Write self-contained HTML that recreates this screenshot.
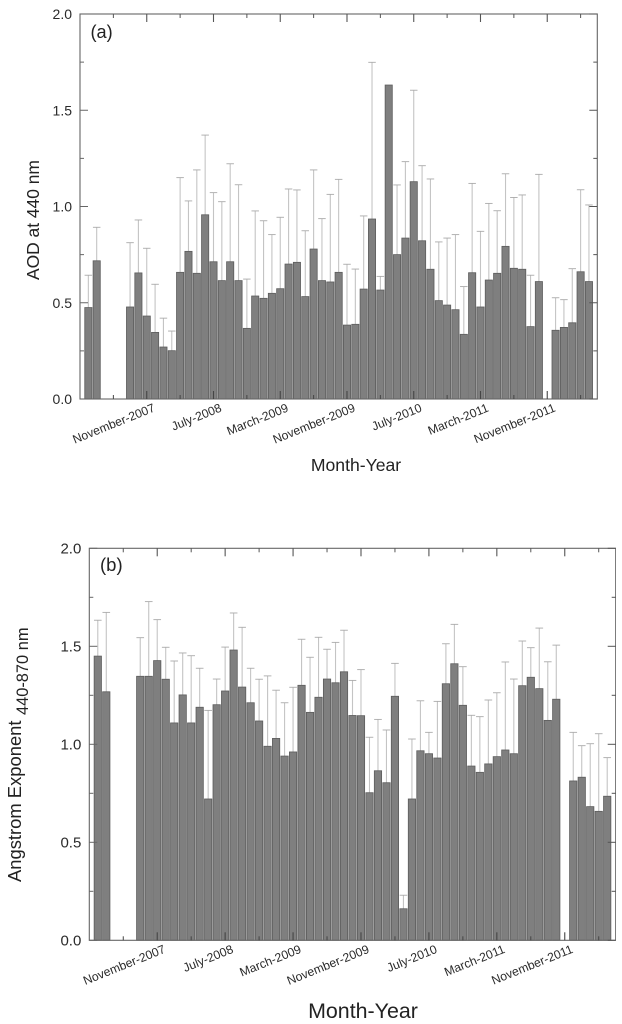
<!DOCTYPE html>
<html lang="en">
<head>
<meta charset="utf-8">
<title>AOD and Angstrom Exponent</title>
<style>
html,body{margin:0;padding:0;background:#fff;width:622px;height:1024px;overflow:hidden}
svg{display:block;font-family:"Liberation Sans",Arial,sans-serif}
</style>
</head>
<body>
<svg id="figure" width="622" height="1024" viewBox="0 0 622 1024" xmlns="http://www.w3.org/2000/svg">
  <defs>
    <filter id="soft" x="0" y="0" width="100%" height="100%"><feGaussianBlur stdDeviation="0.35"/></filter>
  </defs>
  <rect width="622" height="1024" fill="#fff"/>
  <g id="root" filter="url(#soft)">
    <g id="panel-a"></g>
    <g id="panel-b"></g>
    <text x="90.5" y="38" font-size="18.2" fill="#222">(a)</text>
    <text x="100" y="571" font-size="18.5" fill="#222">(b)</text>
    <text x="356" y="471" font-size="17.6" fill="#222" text-anchor="middle">Month-Year</text>
    <text x="363" y="1018" font-size="21.4" fill="#222" text-anchor="middle">Month-Year</text>
    <text transform="translate(39,280) rotate(-90)" font-size="17.4" fill="#222">AOD at 440 nm</text>
    <text transform="translate(21,882) rotate(-90)" font-size="18.4" fill="#222">Angstrom Exponent</text>
    <text transform="translate(28,715) rotate(-90)" font-size="16.4" fill="#222">440-870 nm</text>
  </g>
</svg>
<script>
const categories = ['Apr-07','May-07','Jun-07','Jul-07','Aug-07','Sep-07','Oct-07','Nov-07','Dec-07','Jan-08','Feb-08','Mar-08','Apr-08','May-08','Jun-08','Jul-08','Aug-08','Sep-08','Oct-08','Nov-08','Dec-08','Jan-09','Feb-09','Mar-09','Apr-09','May-09','Jun-09','Jul-09','Aug-09','Sep-09','Oct-09','Nov-09','Dec-09','Jan-10','Feb-10','Mar-10','Apr-10','May-10','Jun-10','Jul-10','Aug-10','Sep-10','Oct-10','Nov-10','Dec-10','Jan-11','Feb-11','Mar-11','Apr-11','May-11','Jun-11','Jul-11','Aug-11','Sep-11','Oct-11','Nov-11','Dec-11','Jan-12','Feb-12','Mar-12','Apr-12'];
const majorTickCategories = ['Nov-07','Jul-08','Mar-09','Nov-09','Jul-10','Mar-11','Nov-11'];
const minorTickCategories = ['Jul-07','Mar-08','Nov-08','Jul-09','Mar-10','Nov-10','Jul-11','Mar-12'];
const xTickLabels = ['November-2007','July-2008','March-2009','November-2009','July-2010','March-2011','November-2011'];
const yMajorTicks = [0, 0.5, 1, 1.5, 2];
const yMinorTicks = [0.25, 0.75, 1.25, 1.75];
const yTickLabels = ['0.0','0.5','1.0','1.5','2.0'];
const aodValues = [0.475,0.718,null,null,null,0.478,0.655,0.431,0.346,0.27,0.251,0.658,0.767,0.653,0.957,0.713,0.615,0.713,0.615,0.367,0.535,0.523,0.549,0.573,0.701,0.71,0.532,0.779,0.615,0.608,0.658,0.384,0.388,0.571,0.935,0.566,1.631,0.75,0.836,1.129,0.822,0.674,0.511,0.488,0.464,0.336,0.656,0.478,0.618,0.653,0.793,0.679,0.674,0.376,0.61,null,0.357,0.372,0.396,0.661,0.61];
const aodUpper = [0.643,0.892,null,null,null,0.812,0.93,0.783,0.596,0.42,0.353,1.15,1.029,1.19,1.371,1.072,1.025,1.222,1.113,0.623,0.977,0.926,0.854,0.944,1.091,1.086,0.874,1.19,0.937,1.063,1.141,0.7,0.675,0.951,1.749,0.637,null,1.112,1.233,1.604,1.212,1.143,0.816,0.836,0.854,0.584,1.12,0.871,1.016,0.978,1.17,1.047,1.06,0.643,1.167,null,0.526,0.516,0.677,1.087,1.008];
const angstromValues = [1.45,1.268,null,null,null,1.347,1.347,1.427,1.332,1.109,1.252,1.109,1.189,0.721,1.202,1.272,1.481,1.292,1.212,1.119,0.99,1.03,0.94,0.961,1.301,1.163,1.24,1.333,1.314,1.37,1.147,1.146,0.753,0.865,0.804,1.245,0.161,0.721,0.967,0.952,0.93,1.309,1.411,1.199,0.889,0.857,0.9,0.937,0.971,0.952,1.299,1.342,1.284,1.122,1.23,null,0.813,0.832,0.682,0.658,0.735];
const angstromUpper = [1.633,1.673,null,null,null,1.544,1.728,1.636,1.495,1.425,1.466,1.452,1.388,1.173,1.333,1.496,1.67,1.597,1.388,1.332,1.349,1.276,1.212,1.291,1.536,1.444,1.546,1.485,1.52,1.582,1.326,1.381,1.036,1.127,1.073,1.413,0.23,1.027,1.222,1.061,1.219,1.513,1.612,1.396,1.148,1.141,1.226,1.263,1.42,1.333,1.527,1.493,1.593,1.421,1.506,null,1.061,0.993,1.003,1.054,0.932];

const SVG_NS = 'http://www.w3.org/2000/svg';

function shape(tag, attrs, parent) {
  const el = document.createElementNS(SVG_NS, tag);
  for (const k in attrs) el.setAttribute(k, attrs[k]);
  parent.appendChild(el);
  return el;
}

function drawPanel(cfg) {
  const g = document.getElementById(cfg.id);
  const L = cfg.left, R = cfg.right, T = cfg.top, B = cfg.bottom;
  const step = (R - L) / (categories.length + 1);
  const x = function (i) { return L + step * (i + 1); };
  const y = function (v) { return B - (v / 2) * (B - T); };
  const barW = step * 0.86;
  const capW = step * 0.9;

  cfg.upper.forEach(function (u, i) {
    const v = cfg.values[i];
    if (u === null || v === null) return;
    const stem = shape('line', {x1: x(i), x2: x(i), y1: y(v), y2: y(u), stroke: '#c4c4c4', 'stroke-width': 1.1}, g);
    
    
    const cap = shape('line', {x1: x(i) - capW / 2, x2: x(i) + capW / 2, y1: y(u), y2: y(u), stroke: '#aaa', 'stroke-width': 0.9}, g);
    
    
  });

  cfg.values.forEach(function (v, i) {
    if (v === null) return;
    const bar = shape('rect', {x: x(i) - barW / 2, y: y(v), width: barW, height: B - y(v), fill: '#7f7f7f', stroke: '#5c5c5c', 'stroke-width': 0.8}, g);
    
    
  });

  const frame = shape('rect', {x: L, y: T, width: R - L, height: B - T, fill: 'none', stroke: '#666', 'stroke-width': 1.1}, g);
  
  

  function xTick(cat, len, w, labelIndex) {
    const px = x(categories.indexOf(cat));
    const bottomTick = shape('line', {x1: px, x2: px, y1: B, y2: B - len, stroke: '#444', 'stroke-width': w}, g);
    
    
    const topTick = shape('line', {x1: px, x2: px, y1: T, y2: T + len, stroke: '#555', 'stroke-width': w}, g);
    
    
    if (labelIndex !== null) {
      const ax = px + 9, ay = B + cfg.xLabelDy;
      const t = shape('text', {x: ax, y: ay, 'text-anchor': 'end', 'font-size': 12.2, fill: '#2b2b2b', transform: 'rotate(-22 ' + ax + ' ' + ay + ')'}, g);
      t.textContent = xTickLabels[labelIndex];
      
      
    }
  }
  majorTickCategories.forEach(function (c, i) { xTick(c, 8, 1.1, i); });
  minorTickCategories.forEach(function (c) { xTick(c, 4, 1, null); });

  function yTick(v, len) {
    const py = y(v);
    const leftTick = shape('line', {x1: L, x2: L + len, y1: py, y2: py, stroke: '#666', 'stroke-width': 1}, g);
    
    
    const rightTick = shape('line', {x1: R, x2: R - len, y1: py, y2: py, stroke: '#555', 'stroke-width': 1}, g);
    
    
  }
  yMajorTicks.forEach(function (v, i) {
    yTick(v, 8);
    const t = shape('text', {x: L - cfg.yLabelGap, y: y(v) + cfg.yFont * 0.36, 'text-anchor': 'end', 'font-size': cfg.yFont, fill: '#2b2b2b'}, g);
    t.textContent = yTickLabels[i];
    
    
  });
  yMinorTicks.forEach(function (v) { yTick(v, 4); });
}

drawPanel({id: 'panel-a', left: 80, right: 597.3, top: 14, bottom: 399, values: aodValues, upper: aodUpper, xLabelDy: 12, yLabelGap: 8, yFont: 14});
drawPanel({id: 'panel-b', left: 89.3, right: 615.7, top: 548.3, bottom: 940.3, values: angstromValues, upper: angstromUpper, xLabelDy: 12, yLabelGap: 8, yFont: 15});
</script>
</body>
</html>
